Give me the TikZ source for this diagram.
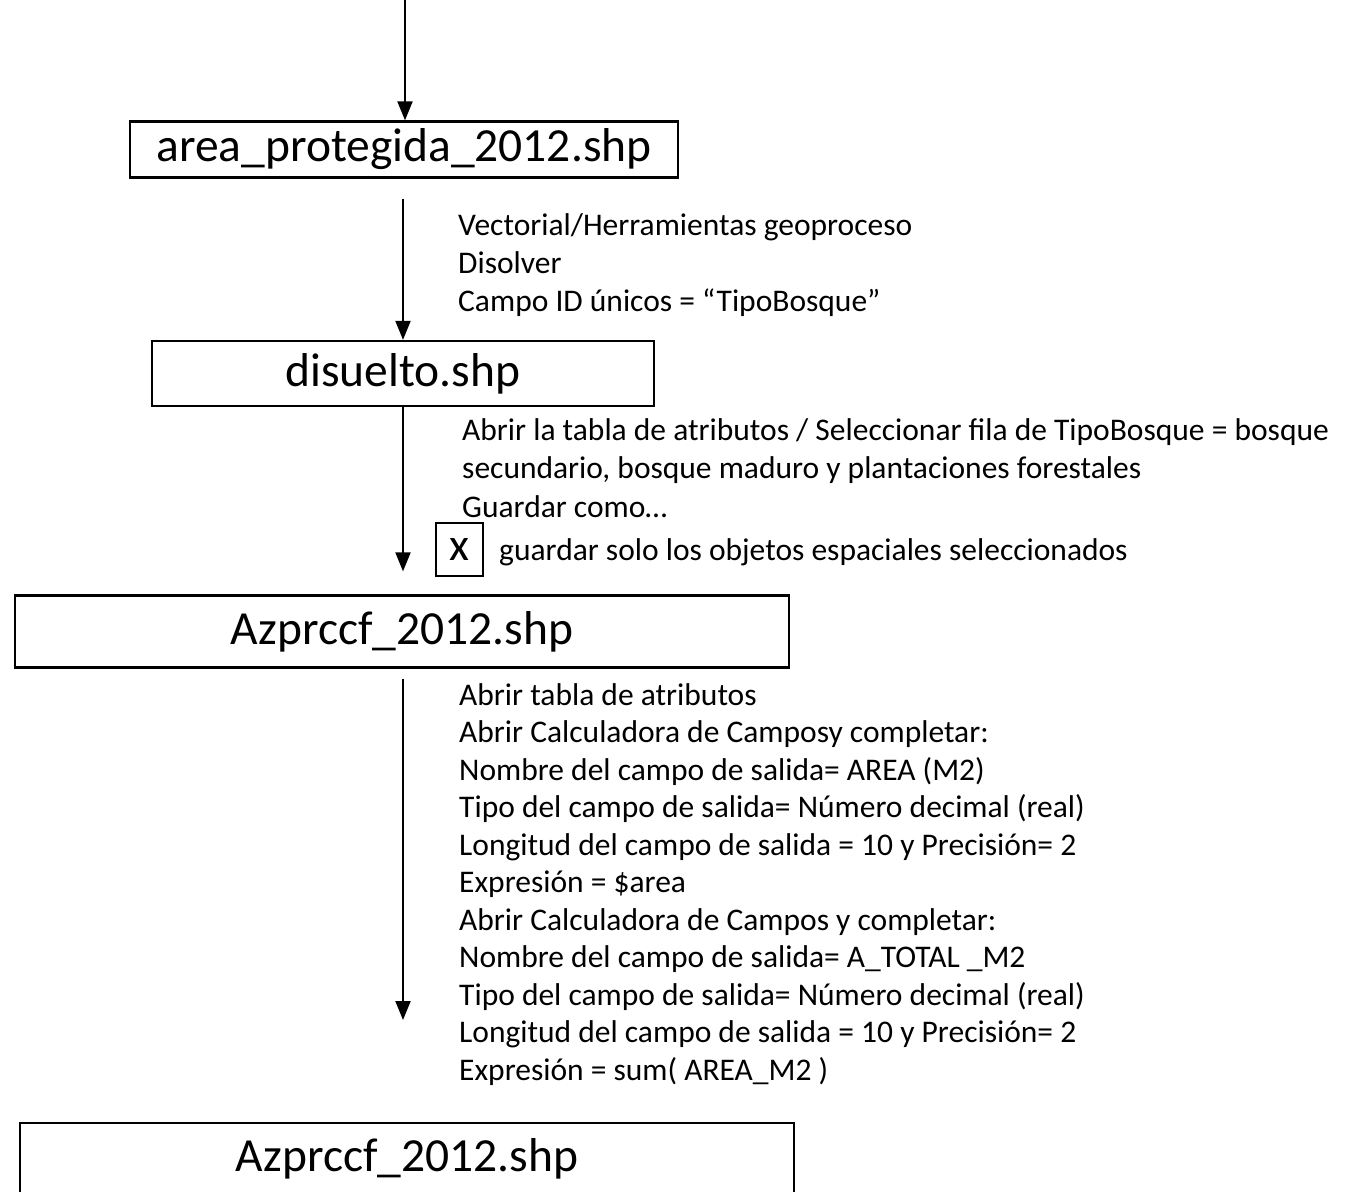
\documentclass[tikz,border=0pt]{standalone}
\usepackage{fontspec}
\setmainfont{Carlito}
\usetikzlibrary{arrows.meta,calc}

\tikzset{
  filebox/.style={draw, line width=2.3pt, inner sep=0pt, font=\fontsize{47.5}{57}\selectfont},
  note/.style={anchor=base west, inner sep=0pt, font=\fontsize{31.5}{38}\selectfont},
  flow/.style={line width=2pt, -{Triangle[width=15pt,length=19pt]}},
}

\begin{document}
\begin{tikzpicture}[x=1pt,y=-1pt]
   \useasboundingbox (0,0) rectangle (1353,1192);

   % archivos
   \node[filebox, minimum width=548pt, minimum height=56pt] (prot) at (404,149.5) {area\_protegida\_2012.shp};
   \node[filebox, minimum width=502pt, minimum height=65pt] (dis) at (403,373.5) {disuelto.shp};
   \node[filebox, minimum width=774pt, minimum height=72pt] (azp) at (402,631.5) {Azprccf\_2012.shp};
   \node[filebox, minimum width=774pt, minimum height=72pt] (azpt) at (407,1159) {Azprccf\_2012.shp};

   \coordinate (inicio) at (405,0);
   \coordinate (fin) at (403,1020);

   % flechas
   \draw[flow] (inicio) -- (inicio |- prot.north);
   \draw[flow, shorten <=20pt] (prot.south -| dis.north) -- (dis.north);
   \draw[flow, shorten >=23pt] (dis.south) -- (dis.south |- azp.north);
   \draw[flow, shorten <=10pt] (azp.south -| fin) -- (fin);

   % pasos
   \foreach \txt [count=\i] in {Vectorial/Herramientas geoproceso, Disolver, Campo ID únicos = “TipoBosque”}
     \node[note] (geo\i) at (458,{235+38*(\i-1)}) {\txt};

   \foreach \txt [count=\i] in {Abrir la tabla de atributos / Seleccionar fila de TipoBosque = bosque,
       {secundario, bosque maduro y plantaciones forestales}, Guardar como…}
     \node[note] (sel\i) at (462,{440+38.5*(\i-1)}) {\txt};

   \node[draw, line width=1.6pt, minimum width=47pt, minimum height=53pt, inner sep=0pt,
     font=\fontsize{46}{50}\selectfont] (chk) at (459.5,549.5) {x};
   \node[note] (chktxt) at (499,560) {guardar solo los objetos espaciales seleccionados};

   \foreach \txt [count=\i] in {Abrir tabla de atributos,
       Abrir Calculadora de Camposy completar:,
       Nombre del campo de salida= AREA (M2),
       Tipo del campo de salida= Número decimal (real),
       Longitud del campo de salida = 10 y Precisión= 2,
       Expresión = \$area,
       Abrir Calculadora de Campos y completar:,
       Nombre del campo de salida= A\_TOTAL \_M2,
       Tipo del campo de salida= Número decimal (real),
       Longitud del campo de salida = 10 y Precisión= 2,
       Expresión = sum( AREA\_M2 )}
     \node[note] (calc\i) at (459,{705+37.5*(\i-1)}) {\txt};
\end{tikzpicture}
\end{document}
